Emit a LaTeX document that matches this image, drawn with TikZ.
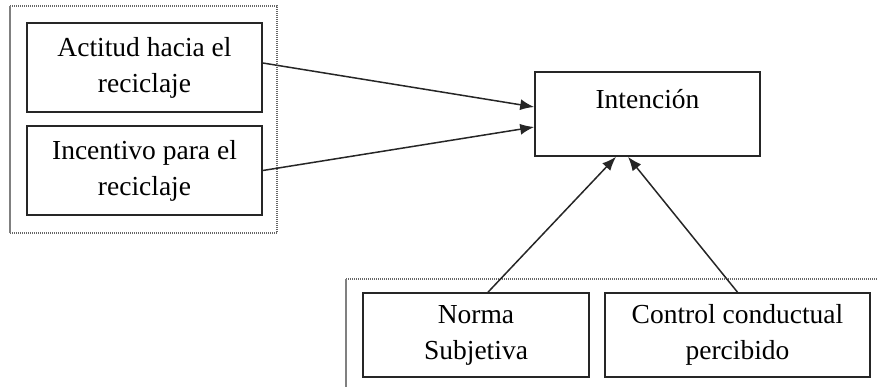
\documentclass[tikz,border=0pt]{standalone}
\usepackage{fontspec}
\setmainfont{Liberation Serif}
\usetikzlibrary{arrows.meta}
\begin{document}
\begin{tikzpicture}[x=1pt,y=-1pt,
  boxnode/.style={draw=black!85, line width=1.6pt, rectangle, inner sep=0pt, align=center,
    font=\fontsize{27.5}{36}\selectfont},
  frameline/.style={draw=black!60, line width=1.1pt, dash pattern=on 1pt off 1pt},
  frameside/.style={draw=black!50, line width=1.1pt},
  conn/.style={draw=black!85, line width=1.5pt, -{Latex[length=14pt,width=11pt]}}]
\useasboundingbox (0,0) rectangle (878,387);
% frames
\draw[frameline] (10,6) -- (277,6) -- (277,233) -- (10,233);
\draw[frameside] (10,6) -- (10,233);
\draw[frameline] (346,279) -- (878,279);
\draw[frameside] (346,279) -- (346,387);
% nodes
\node[boxnode, minimum width=235pt, minimum height=89pt] (act) at (144.5,67.5) {Actitud hacia el\\reciclaje};
\node[boxnode, minimum width=235pt, minimum height=89pt] (inc) at (144.5,170.5) {Incentivo para el\\reciclaje};
\node[boxnode, minimum width=225pt, minimum height=84pt, text height=19pt, text depth=29pt] (int) at (647.5,114) {Intención};
\node[boxnode, minimum width=226pt, minimum height=84pt] (nor) at (476,335) {Norma\\Subjetiva};
\node[boxnode, minimum width=265pt, minimum height=84pt] (con) at (737.5,335) {Control conductual\\percibido};
% connectors
\draw[conn] ([yshift=4.5pt]act.east) -- ([yshift=7pt]int.west);
\draw[conn] (inc.east) -- ([yshift=-13pt]int.west);
\draw[conn] ([xshift=12pt]nor.north) -- ([xshift=-31.5pt]int.south);
\draw[conn] (con.north) -- ([xshift=-19.5pt]int.south);
\end{tikzpicture}
\end{document}
